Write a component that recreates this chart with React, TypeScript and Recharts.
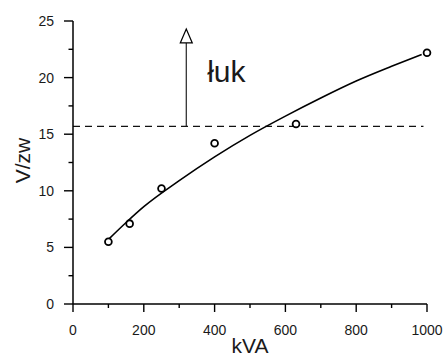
import {
  ComposedChart,
  XAxis,
  YAxis,
  Line,
  Scatter,
  ReferenceLine,
  ReferenceDot,
  Label,
} from "recharts";

// measured points (kVA, V/zw)
const measured = [
  { kva: 100, v: 5.5 },
  { kva: 160, v: 7.1 },
  { kva: 250, v: 10.2 },
  { kva: 400, v: 14.2 },
  { kva: 630, v: 15.9 },
  { kva: 1000, v: 22.2 },
];

// fitted curve
const fitted = [
  { kva: 100, v: 5.7 },
  { kva: 150, v: 7.2 },
  { kva: 200, v: 8.6 },
  { kva: 300, v: 10.9 },
  { kva: 400, v: 13.0 },
  { kva: 500, v: 14.9 },
  { kva: 600, v: 16.6 },
  { kva: 700, v: 18.2 },
  { kva: 800, v: 19.7 },
  { kva: 900, v: 21.0 },
  { kva: 985, v: 22.05 },
];

const xTicks = [0, 100, 200, 300, 400, 500, 600, 700, 800, 900, 1000];
const yTicks = [0, 2.5, 5, 7.5, 10, 12.5, 15, 17.5, 20, 22.5, 25];

const limit = 15.7;
const arrowX = 320;
const arrowTop = 24.3;
const arrowBase = 23.1;

const font = '"Liberation Sans", Arial, sans-serif';
const ink = "#1a1a1a";

const XTick = (props: any) => {
  const { x, y, payload } = props;
  const major = payload.value % 200 === 0;
  return (
    <g>
      <line x1={x} x2={x} y1={y} y2={y + (major ? 8 : 4)} stroke="#000" strokeWidth={1.4} />
      {major && (
        <text x={x} y={y + 31} textAnchor="middle" fontSize={14} fontFamily={font} fill={ink}>
          {payload.value}
        </text>
      )}
    </g>
  );
};

const YTick = (props: any) => {
  const { x, y, payload } = props;
  const major = payload.value % 5 === 0;
  return (
    <g>
      <line x1={x} x2={x - (major ? 9 : 4.5)} y1={y} y2={y} stroke="#000" strokeWidth={1.4} />
      {major && (
        <text x={x - 19} y={y + 5} textAnchor="end" fontSize={14} fontFamily={font} fill={ink}>
          {payload.value}
        </text>
      )}
    </g>
  );
};

const Circle = (props: any) => (
  <circle cx={props.cx} cy={props.cy} r={3.4} fill="#fff" stroke="#000" strokeWidth={1.8} />
);

const ArrowHead = (props: any) => {
  const { cx, cy } = props;
  return (
    <polygon
      points={`${cx},${cy} ${cx - 6},${cy + 14} ${cx + 6},${cy + 14}`}
      fill="#fff"
      stroke="#000"
      strokeWidth={1.2}
    />
  );
};

const ArcText = (props: any) => (
  <text x={props.cx} y={props.cy} fontSize={30} fontFamily={font} fill={ink}>
    łuk
  </text>
);

export default function App() {
  return (
    <div style={{ position: "absolute", left: 0, top: 0, background: "#fff" }}>
      <ComposedChart
        width={443}
        height={356}
        margin={{ top: 21, right: 16, bottom: 0, left: 0 }}
      >
        <XAxis
          type="number"
          dataKey="kva"
          domain={[0, 1000]}
          ticks={xTicks}
          interval={0}
          tickSize={0}
          tickMargin={0}
          tick={<XTick />}
          tickLine={false}
          axisLine={{ stroke: "#000", strokeWidth: 1.5 }}
          height={52}
        >
          <Label
            content={(p: any) => (
              <text
                x={p.viewBox.x + p.viewBox.width / 2}
                y={p.viewBox.y + 49}
                textAnchor="middle"
                fontSize={21}
                fontFamily={font}
                fill={ink}
              >
                kVA
              </text>
            )}
          />
        </XAxis>
        <YAxis
          type="number"
          dataKey="v"
          domain={[0, 25]}
          ticks={yTicks}
          interval={0}
          tickSize={0}
          tickMargin={0}
          tick={<YTick />}
          tickLine={false}
          axisLine={{ stroke: "#000", strokeWidth: 1.5 }}
          width={73}
        >
          <Label
            content={(p: any) => {
              const cx = p.viewBox.x + 22;
              const cy = p.viewBox.y + p.viewBox.height / 2 - 2;
              return (
                <text
                  x={cx}
                  y={cy}
                  transform={`rotate(-90 ${cx} ${cy})`}
                  textAnchor="middle"
                  dominantBaseline="central"
                  fontSize={21}
                  fontFamily={font}
                  fill={ink}
                >
                  V/zw
                </text>
              );
            }}
          />
        </YAxis>
        <ReferenceLine
          segment={[
            { x: 0, y: limit },
            { x: 990, y: limit },
          ]}
          stroke="#111"
          strokeWidth={1.2}
          strokeDasharray="7 5"
        />
        <ReferenceLine
          segment={[
            { x: arrowX, y: limit },
            { x: arrowX, y: arrowBase },
          ]}
          stroke="#222"
          strokeWidth={1.2}
        />
        <ReferenceDot x={arrowX} y={arrowTop} shape={<ArrowHead />} />
        <ReferenceDot x={379} y={19.6} shape={<ArcText />} />
        <Line
          data={fitted}
          dataKey="v"
          type="monotone"
          stroke="#000"
          strokeWidth={1.6}
          dot={false}
          activeDot={false}
          isAnimationActive={false}
        />
        <Scatter data={measured} dataKey="v" shape={<Circle />} isAnimationActive={false} />
      </ComposedChart>
    </div>
  );
}
